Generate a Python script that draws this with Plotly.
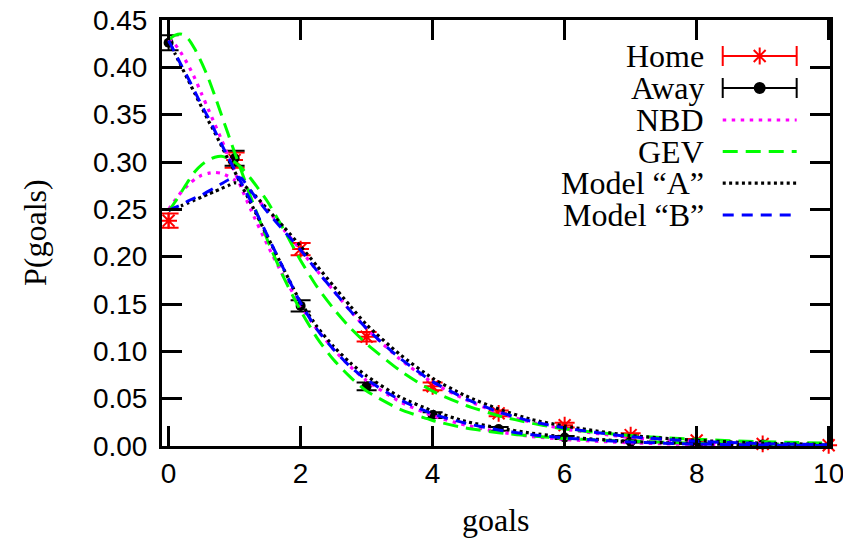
import plotly.graph_objects as go

# ---------------- data ----------------
goals = [0, 1, 2, 3, 4, 5, 6, 7, 8, 9, 10]
home_p = [0.238, 0.302, 0.208, 0.1155, 0.063, 0.0345, 0.022, 0.0115, 0.0058, 0.0022, 0.0008]
home_err = [0.0075, 0.008, 0.0065, 0.005, 0.004, 0.003, 0.0025, 0.002, 0.0015, 0.001, 0.0008]
goals_away = [0, 1, 2, 3, 4, 5, 6, 7, 8, 9]
away_p = [0.426, 0.304, 0.148, 0.063, 0.0327, 0.018, 0.009, 0.0046, 0.0025, 0.0015]
away_err = [0.008, 0.008, 0.006, 0.004, 0.003, 0.002, 0.0015, 0.001, 0.0008, 0.0006]

xc = [0, 0.1, 0.2, 0.3, 0.4, 0.5, 0.6, 0.7, 0.8, 0.9, 1.0, 1.1, 1.25, 1.5, 1.75,
      2.0, 2.25, 2.5, 2.75, 3.0, 3.5, 4.0, 4.5, 5.0, 5.5, 6.0, 7.0, 8.0, 9.0, 10.0]

nbd_home = [0.250, 0.260, 0.269, 0.276, 0.282, 0.286, 0.288, 0.289, 0.288, 0.285, 0.281, 0.276, 0.267,
            0.249, 0.228, 0.207, 0.185, 0.164, 0.143, 0.124, 0.092, 0.067, 0.049, 0.035, 0.025,
            0.018, 0.009, 0.0045, 0.0022, 0.0011]
gev_home = [0.248, 0.258, 0.269, 0.280, 0.290, 0.297, 0.302, 0.305, 0.306, 0.304, 0.300, 0.294, 0.282,
            0.258, 0.228, 0.196, 0.168, 0.145, 0.125, 0.108, 0.080, 0.058, 0.043, 0.032, 0.024,
            0.018, 0.011, 0.007, 0.0045, 0.003]
a_home = [0.249, 0.2515, 0.254, 0.257, 0.260, 0.263, 0.266, 0.269, 0.272, 0.275, 0.278, 0.277, 0.269,
          0.250, 0.231, 0.211, 0.190, 0.169, 0.148, 0.128, 0.097, 0.0715, 0.053, 0.039, 0.028,
          0.021, 0.011, 0.006, 0.003, 0.0016]
b_home = [0.249, 0.252, 0.255, 0.259, 0.262, 0.265, 0.269, 0.273, 0.277, 0.281, 0.284, 0.283, 0.269,
          0.247, 0.227, 0.207, 0.185, 0.164, 0.143, 0.124, 0.093, 0.068, 0.050, 0.036, 0.026,
          0.019, 0.0098, 0.005, 0.0025, 0.0013]

nbd_away = [0.430, 0.424, 0.414, 0.402, 0.388, 0.372, 0.356, 0.340, 0.324, 0.307, 0.290, 0.273, 0.249,
            0.212, 0.178, 0.148, 0.123, 0.102, 0.084, 0.069, 0.047, 0.032, 0.022, 0.015, 0.010,
            0.007, 0.0033, 0.0016, 0.0008, 0.0004]
gev_away = [0.429, 0.434, 0.435, 0.430, 0.419, 0.405, 0.389, 0.370, 0.350, 0.330, 0.310, 0.291, 0.262,
            0.217, 0.177, 0.143, 0.114, 0.091, 0.073, 0.058, 0.039, 0.027, 0.019, 0.014, 0.0105,
            0.008, 0.005, 0.003, 0.002, 0.0013]
a_away = [0.428, 0.414, 0.400, 0.386, 0.372, 0.358, 0.344, 0.331, 0.317, 0.303, 0.290, 0.276, 0.256,
          0.221, 0.186, 0.152, 0.126, 0.105, 0.088, 0.074, 0.052, 0.037, 0.026, 0.019, 0.0135,
          0.0095, 0.0048, 0.0024, 0.0012, 0.0006]
b_away = [0.428, 0.415, 0.401, 0.388, 0.374, 0.360, 0.347, 0.333, 0.319, 0.305, 0.292, 0.278, 0.258,
          0.222, 0.186, 0.151, 0.123, 0.102, 0.084, 0.070, 0.049, 0.034, 0.024, 0.017, 0.012,
          0.0085, 0.0042, 0.0021, 0.001, 0.0005]

x_ticks = [0, 2, 4, 6, 8, 10]
y_ticks = [0.00, 0.05, 0.10, 0.15, 0.20, 0.25, 0.30, 0.35, 0.40, 0.45]

legend_labels = ["Home", "Away", "NBD", "GEV", "Model \u201cA\u201d", "Model \u201cB\u201d"]

# ---------------- styles ----------------
RED, BLACK, MAG, GREEN, BLUE = "#ff0000", "#000000", "#ff00ff", "#00ff00", "#0000ff"
styles = {
    "NBD": dict(color=MAG, width=3.2, dash="3.5px,5.5px"),
    "GEV": dict(color=GREEN, width=3, dash="15px,8px"),
    "A": dict(color=BLACK, width=3.2, dash="3px,3.4px"),
    "B": dict(color=BLUE, width=3, dash="11px,8px"),
}
SERIF = "Liberation Serif"
SANS = "Liberation Sans"
SERIF_SIZE = 32

fig = go.Figure()

# data points
fig.add_trace(go.Scatter(
    x=goals, y=home_p, mode="markers", cliponaxis=False,
    marker=dict(symbol="asterisk-open", size=14, color=RED, line=dict(color=RED, width=2)),
    error_y=dict(type="data", array=home_err, color=RED, thickness=2, width=10),
    showlegend=False))
fig.add_trace(go.Scatter(
    x=goals_away, y=away_p, mode="markers", cliponaxis=False,
    marker=dict(symbol="circle", size=10, color=BLACK),
    error_y=dict(type="data", array=away_err, color=BLACK, thickness=2, width=10),
    showlegend=False))

# model curves
for key, h, a in [("NBD", nbd_home, nbd_away), ("GEV", gev_home, gev_away),
                  ("A", a_home, a_away), ("B", b_home, b_away)]:
    for ys in (h, a):
        fig.add_trace(go.Scatter(x=xc, y=ys, mode="lines",
                                 line=dict(shape="spline", smoothing=0.6, **styles[key]),
                                 showlegend=False))

# ---------------- custom legend (text left, sample right) ----------------
LX_TEXT = 0.813
LX0, LX1 = 0.8394, 0.9501
LXC = (LX0 + LX1) / 2
LROWS = [0.9155, 0.8404, 0.7653, 0.6911, 0.6169, 0.5423]

for i, (col, sym, sz) in enumerate([(RED, "asterisk-open", 14), (BLACK, "circle", 10)]):
    fig.add_trace(go.Scatter(
        x=[LXC], y=[LROWS[i]], xaxis="x2", yaxis="y2", mode="markers", cliponaxis=False,
        marker=dict(symbol=sym, size=sz, color=col, line=dict(color=col, width=2)),
        error_x=dict(type="constant", value=(LX1 - LX0) / 2, color=col, thickness=2, width=10),
        showlegend=False))
for i, key in enumerate(["NBD", "GEV", "A", "B"]):
    fig.add_trace(go.Scatter(x=[LX0, LX1], y=[LROWS[i + 2]] * 2, xaxis="x2", yaxis="y2",
                             mode="lines", line=dict(styles[key]), showlegend=False, cliponaxis=False))

for lab, yy in zip(legend_labels, LROWS):
    fig.add_annotation(x=LX_TEXT, y=yy, xref="paper", yref="paper", text=lab, showarrow=False,
                       xanchor="right", yanchor="middle", borderpad=0,
                       font=dict(family=SERIF, size=SERIF_SIZE, color="black"))

# axis titles
fig.add_annotation(x=0, y=0.5, xref="paper", yref="paper", text="P(goals)", textangle=-90,
                   showarrow=False, xanchor="center", yanchor="middle", xshift=-127,
                   font=dict(family=SERIF, size=SERIF_SIZE, color="black"))
fig.add_annotation(x=0.5, y=0, xref="paper", yref="paper", text="goals",
                   showarrow=False, xanchor="center", yanchor="middle", yshift=-74,
                   font=dict(family=SERIF, size=SERIF_SIZE, color="black"))

axis_common = dict(showline=True, linewidth=3, linecolor="black", mirror="ticks",
                   ticks="inside", ticklen=20, tickwidth=3, tickcolor="black",
                   showgrid=False, zeroline=False, automargin=False, ticklabeloverflow="allow",
                   tickfont=dict(family=SANS, size=28, color="black"))
fig.update_layout(
    width=843, height=541,
    margin=dict(l=162, r=13, t=20, b=95),
    paper_bgcolor="white", plot_bgcolor="white",
    xaxis=dict(range=[-0.1, 10.02], tickvals=x_ticks, ticktext=[str(v) for v in x_ticks], **axis_common),
    yaxis=dict(range=[0, 0.45], tickvals=y_ticks, ticktext=["%.2f" % v for v in y_ticks],
               ticklabelstandoff=6, **axis_common),
    xaxis2=dict(overlaying="x", range=[0, 1], visible=False, anchor="y2"),
    yaxis2=dict(overlaying="y", range=[0, 1], visible=False, anchor="x2"),
    showlegend=False,
)

fig.write_html("out.html")
